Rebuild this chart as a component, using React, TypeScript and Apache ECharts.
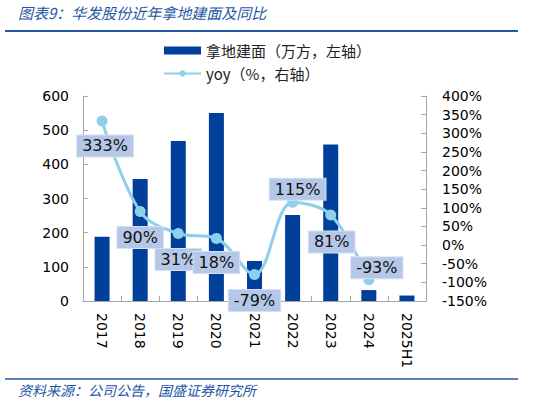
import React, { useEffect, useRef } from "react";
import * as echarts from "echarts";

const categories = ["2017", "2018", "2019", "2020", "2021", "2022", "2023", "2024", "2025H1"];
const landArea = [188, 357, 468, 550, 117, 252, 458, 32, 16];
const yoy = [333, 90, 31, 18, -79, 115, 81, -93, null];
const labelOffsets = [[3, 25], [0, 26], [0, 26], [0, 24], [0, 26], [5, -13], [1, 27], [8, -12], [0, 0]];

const FONT = "DejaVu Sans";
const CJK = "Noto Sans CJK SC";
const BLUE_TITLE = "#2456A4";

export default function App() {
  const ref = useRef<HTMLDivElement>(null);
  useEffect(() => {
    document.body.style.margin = "0";
    const chart = echarts.init(ref.current!, null, { renderer: "svg" });
    const axisLine = { show: true, lineStyle: { color: "#a6a6a6", width: 1 } };
    const axisTick = { show: true, inside: true, length: 5, lineStyle: { color: "#a6a6a6" } };
    chart.setOption({
      animation: false,
      backgroundColor: "#ffffff",
      grid: { left: 83, right: 107, top: 96, bottom: 103 },
      graphic: [
        {
          type: "text",
          left: 18,
          top: 5,
          style: {
            text: "图表9：华发股份近年拿地建面及同比",
            font: `italic 15px "${CJK}"`,
            fill: BLUE_TITLE,
          },
        },
        {
          type: "line",
          shape: { x1: 5, y1: 31, x2: 518, y2: 31 },
          style: { stroke: BLUE_TITLE, lineWidth: 2 },
        },
        {
          type: "line",
          shape: { x1: 5, y1: 379, x2: 518, y2: 379 },
          style: { stroke: BLUE_TITLE, lineWidth: 1.5 },
        },
        {
          type: "text",
          left: 18,
          top: 383,
          style: {
            text: "资料来源：公司公告，国盛证券研究所",
            font: `italic 14px "${CJK}"`,
            fill: BLUE_TITLE,
          },
        },
      ],
      legend: {
        orient: "vertical",
        left: 158,
        top: 38,
        itemWidth: 37,
        itemHeight: 8,
        itemGap: 8,
        textStyle: { fontFamily: CJK, fontSize: 15, color: "#222" },
        data: [
          { name: "拿地建面（万方，左轴）", icon: "rect" },
          { name: "yoy（%，右轴）" },
        ],
      },
      xAxis: {
        type: "category",
        data: categories,
        boundaryGap: true,
        axisLine,
        axisTick: { ...axisTick, alignWithLabel: false },
        axisLabel: {
          rotate: -90,
          margin: 12,
          fontFamily: FONT,
          fontSize: 14,
          color: "#000",
          interval: 0,
        },
      },
      yAxis: [
        {
          type: "value",
          min: 0,
          max: 600,
          interval: 100,
          axisLine,
          axisTick,
          splitLine: { show: false },
          axisLabel: { fontFamily: FONT, fontSize: 14, color: "#000", margin: 14 },
        },
        {
          type: "value",
          min: -150,
          max: 400,
          interval: 50,
          position: "right",
          axisLine,
          axisTick,
          splitLine: { show: false },
          axisLabel: {
            fontFamily: FONT,
            fontSize: 14,
            color: "#000",
            margin: 16,
            formatter: "{value}%",
          },
        },
      ],
      series: [
        {
          name: "拿地建面（万方，左轴）",
          type: "bar",
          data: landArea,
          barWidth: 15,
          itemStyle: { color: "#00409A" },
        },
        {
          name: "yoy（%，右轴）",
          type: "line",
          yAxisIndex: 1,
          smooth: 0.35,
          data: yoy.map((v, i) => ({
            value: v,
            label: {
              show: v !== null,
              position: "inside",
              offset: labelOffsets[i],
            },
          })),
          symbol: "circle",
          symbolSize: 11,
          lineStyle: { color: "#8ECFE9", width: 3 },
          itemStyle: { color: "#8ECFE9" },
          label: {
            show: true,
            formatter: "{c}%",
            fontFamily: FONT,
            fontSize: 16,
            color: "#111",
            backgroundColor: "#B4C7E7",
            borderColor: "#D6E0F2",
            borderWidth: 1,
            padding: [3, 5, 2, 5],
          },
          z: 3,
        },
      ],
    });
    return () => chart.dispose();
  }, []);
  return <div ref={ref} style={{ width: 533, height: 404 }} />;
}
